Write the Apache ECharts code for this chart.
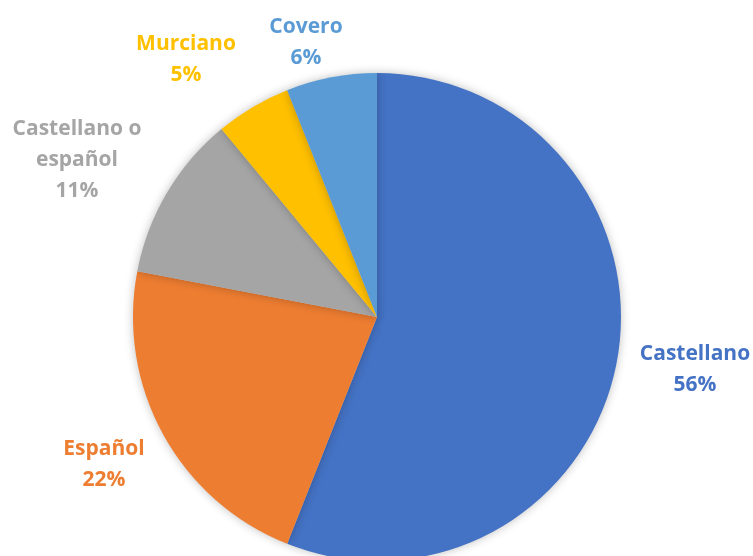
<!DOCTYPE html>
<html>
<head>
<meta charset="utf-8">
<script src="https://cdn.jsdelivr.net/npm/echarts@6/dist/echarts.min.js"></script>
<style>
  html, body { margin: 0; padding: 0; background: #ffffff; }
  #chart { width: 753px; height: 556px; }
</style>
</head>
<body>
<div id="chart"></div>
<script>
// Language names and their shares (percent), clockwise from 12 o'clock
const categories = ['Castellano', 'Español', 'Castellano o\nespañol', 'Murciano', 'Covero'];
const shares = [56, 22, 11, 5, 6];
const colors = ['#4472C4', '#ED7D31', '#A5A5A5', '#FFC000', '#5B9BD5'];

// Where each data label sits (label centre, px)
const labelSpots = [
  [695, 370],
  [104, 465],
  [77, 160],
  [186, 60],
  [306, 43]
];

const chart = echarts.init(document.getElementById('chart'));
chart.setOption({
  backgroundColor: '#ffffff',
  animation: false,
  series: [{
    type: 'pie',
    center: [377, 317],
    radius: 244,
    startAngle: 90,
    clockwise: true,
    avoidLabelOverlap: false,
    data: categories.map((name, i) => ({
      name: name,
      value: shares[i],
      itemStyle: { color: colors[i] },
      label: { color: colors[i] }
    })),
    itemStyle: {
      borderWidth: 0,
      shadowBlur: 10,
      shadowColor: 'rgba(0,0,0,0.25)'
    },
    label: {
      show: true,
      position: 'outside',
      formatter: p => p.name + '\n' + p.value + '%',
      fontFamily: '"Open Sans", sans-serif',
      fontWeight: 'bold',
      fontSize: 21,
      lineHeight: 31,
      align: 'center'
    },
    labelLine: { show: false },
    labelLayout: params => ({
      x: labelSpots[params.dataIndex][0],
      y: labelSpots[params.dataIndex][1],
      align: 'center',
      verticalAlign: 'middle'
    })
  }]
});
</script>
</body>
</html>
